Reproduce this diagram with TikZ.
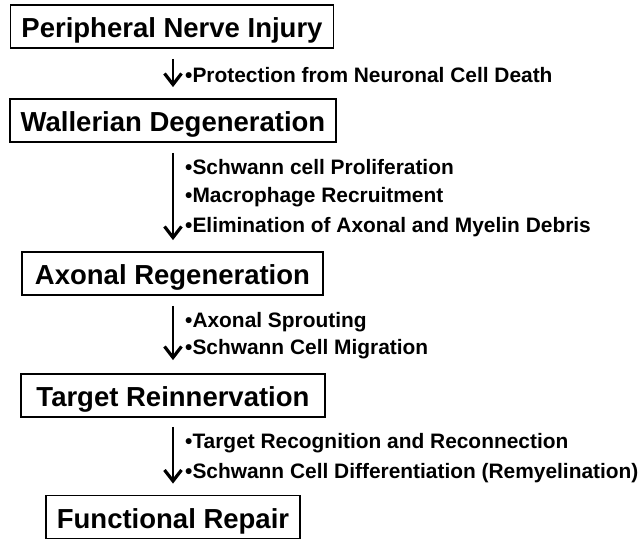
\documentclass[tikz,border=0pt]{standalone}
\usepackage{fontspec}
\setmainfont{Liberation Sans}
\usetikzlibrary{arrows.meta}
\tikzset{
  stage/.style={draw=black, line width=1.8pt, inner xsep=11pt, inner ysep=0pt,
    minimum height=43pt, text height=22.7pt, text depth=0pt,
    font=\bfseries\fontsize{27.5}{32}\selectfont},
  item/.style={anchor=west, inner sep=0pt, text height=15pt, text depth=0pt,
    font=\bfseries\fontsize{20.9}{24}\selectfont},
  arr/.style={line width=2.5pt, -{Straight Barb[length=11pt,width=17pt,line width'=3.2pt]}}
}
\begin{document}
\begin{tikzpicture}[x=1pt,y=-1pt]
\useasboundingbox (0,0) rectangle (641,546);
\coordinate (ax) at (173,0);
\node[stage] (b1) at (172,26.5) {Peripheral Nerve Injury};
\node[stage] (b2) at (173,120.5) {Wallerian Degeneration};
\node[stage, minimum width=301pt] (b3) at (172.5,273.5) {Axonal Regeneration};
\node[stage, minimum width=304pt] (b4) at (173,395.5) {Target Reinnervation};
\node[stage] (b5) at (173,517) {Functional Repair};

\draw[arr] ([yshift=-10pt]b1.south -| ax) -- ([yshift=11pt]b2.north -| ax);
\draw[arr] ([yshift=-10pt]b2.south -| ax) -- ([yshift=11pt]b3.north -| ax);
\draw[arr] ([yshift=-10pt]b3.south -| ax) -- ([yshift=13pt]b4.north -| ax);
\draw[arr] ([yshift=-9pt]b4.south -| ax) -- ([yshift=11pt]b5.north -| ax);

\node[item] (t1) at (185,75) {•Protection from Neuronal Cell Death};
\node[item] (t2) at (185,167) {•Schwann cell Proliferation};
\node[item] (t3) at (185,195) {•Macrophage Recruitment};
\node[item] (t4) at (185,225) {•Elimination of Axonal and Myelin Debris};
\node[item] (t5) at (185,320) {•Axonal Sprouting};
\node[item] (t6) at (185,347) {•Schwann Cell Migration};
\node[item] (t7) at (185,441) {•Target Recognition and Reconnection};
\node[item] (t8) at (185,471) {•Schwann Cell Differentiation (Remyelination)};
\end{tikzpicture}
\end{document}
